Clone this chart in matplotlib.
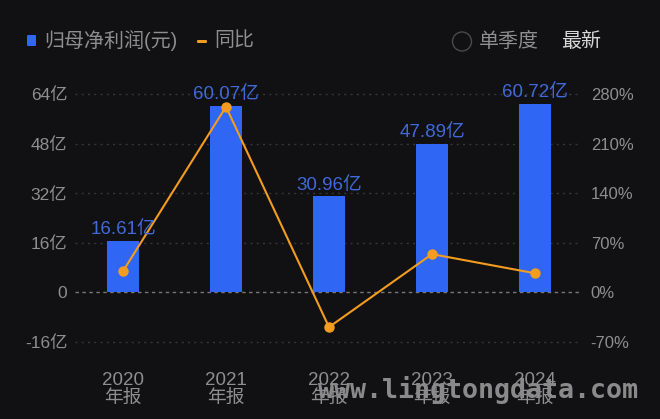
import matplotlib
matplotlib.use("Agg")
import matplotlib.pyplot as plt
from matplotlib.patches import Circle, FancyBboxPatch

plt.rcParams["font.family"] = ["Liberation Sans", "Noto Sans CJK SC"]

years = ["2020", "2021", "2022", "2023", "2024"]
period = "年报"
profit = [16.61, 60.07, 30.96, 47.89, 60.72]
profit_labels = ["16.61亿", "60.07亿", "30.96亿", "47.89亿", "60.72亿"]
yoy = [30, 262, -49, 54, 27]
left_ticks = [-16, 0, 16, 32, 48, 64]
left_labels = ["-16亿", "0", "16亿", "32亿", "48亿", "64亿"]
right_ticks = [-70, 0, 70, 140, 210, 280]
right_labels = ["-70%", "0%", "70%", "140%", "210%", "280%"]

W, H = 660, 419
BG = "#111113"
BLUE = "#2F66F4"
ORANGE = "#F39C1F"
GREY = "#8E8E90"
LABEL_BLUE = "#4169D8"

fig = plt.figure(figsize=(W / 100, H / 100), dpi=100, facecolor=BG)
ax = fig.add_axes([71.5 / W, 1 - 342 / H, 515 / W, 248 / H], facecolor=BG)
x = list(range(len(years)))

ax.set_xlim(-0.5, 4.5)
ax.set_ylim(left_ticks[0], left_ticks[-1])
for t in left_ticks:
    ax.plot([-0.47, 4.44], [t, t], color="#363638" if t else "#77777A", lw=1,
            dashes=(1.5, 3) if t else (2.5, 2.5), zorder=1, clip_on=False)
ax.bar(x, profit, width=0.31, color=BLUE, zorder=2)
for s in ax.spines.values():
    s.set_visible(False)
ax.set_yticks(left_ticks, left_labels)
ax.set_xticks(x, [f"{y}\n{period}" for y in years])
ax.tick_params(axis="both", length=0)
ax.tick_params(axis="y", colors=GREY, labelsize=12.5, pad=3)
ax.tick_params(axis="x", colors=GREY, labelsize=13.5, pad=21.5)
for lab in ax.get_xticklabels():
    lab.set_linespacing(1.1)

ax2 = ax.twinx()
ax2.set_ylim(right_ticks[0], right_ticks[-1])
ax2.plot(x, yoy, color=ORANGE, lw=1.5, marker="o", ms=6.5, zorder=3)
for s in ax2.spines.values():
    s.set_visible(False)
ax2.set_yticks(right_ticks, right_labels)
ax2.tick_params(axis="y", length=0, colors=GREY, labelsize=12, pad=3)

for xi, v, lab in zip(x, profit, profit_labels):
    ax2.annotate(lab, xy=(xi, v * 280 / 64), xytext=(0, 2), textcoords="offset points",
                 ha="center", va="bottom", color=LABEL_BLUE, fontsize=13.5, zorder=4)

def px(xp, yp):
    return xp / W, 1 - yp / H

# Legend
fig.patches.append(FancyBboxPatch(px(27, 46), 9 / W, 11 / H, boxstyle="round,pad=0,rounding_size=0.002",
                                  transform=fig.transFigure, fc=BLUE, ec="none"))
fig.text(*px(44, 41), "归母净利润(元)", color=GREY, fontsize=14.4, va="center")
fig.patches.append(FancyBboxPatch(px(197, 43), 10 / W, 3 / H, boxstyle="round,pad=0,rounding_size=0.002",
                                  transform=fig.transFigure, fc=ORANGE, ec="none"))
fig.text(*px(214, 41), "同比", color=GREY, fontsize=14.4, va="center")
circ_ax = fig.add_axes([0, 0, 1, 1], facecolor="none")
circ_ax.set_xlim(0, W); circ_ax.set_ylim(H, 0); circ_ax.axis("off")
circ_ax.add_patch(Circle((462, 41.5), 9.5, fc="none", ec="#4A4A4C", lw=1))
fig.text(*px(479, 41), "单季度", color=GREY, fontsize=14.4, va="center")
fig.text(*px(561, 41), "最新", color="#D8D8D8", fontsize=14.4, va="center")

# Watermark
fig.text(*px(318, 390), "www.lingtongdata.com", color="#8A8A8A", fontsize=19.2,
         family="DejaVu Sans Mono", weight="bold", va="center", ha="left", zorder=10)

fig.savefig("out.png", dpi=100, facecolor=BG)
